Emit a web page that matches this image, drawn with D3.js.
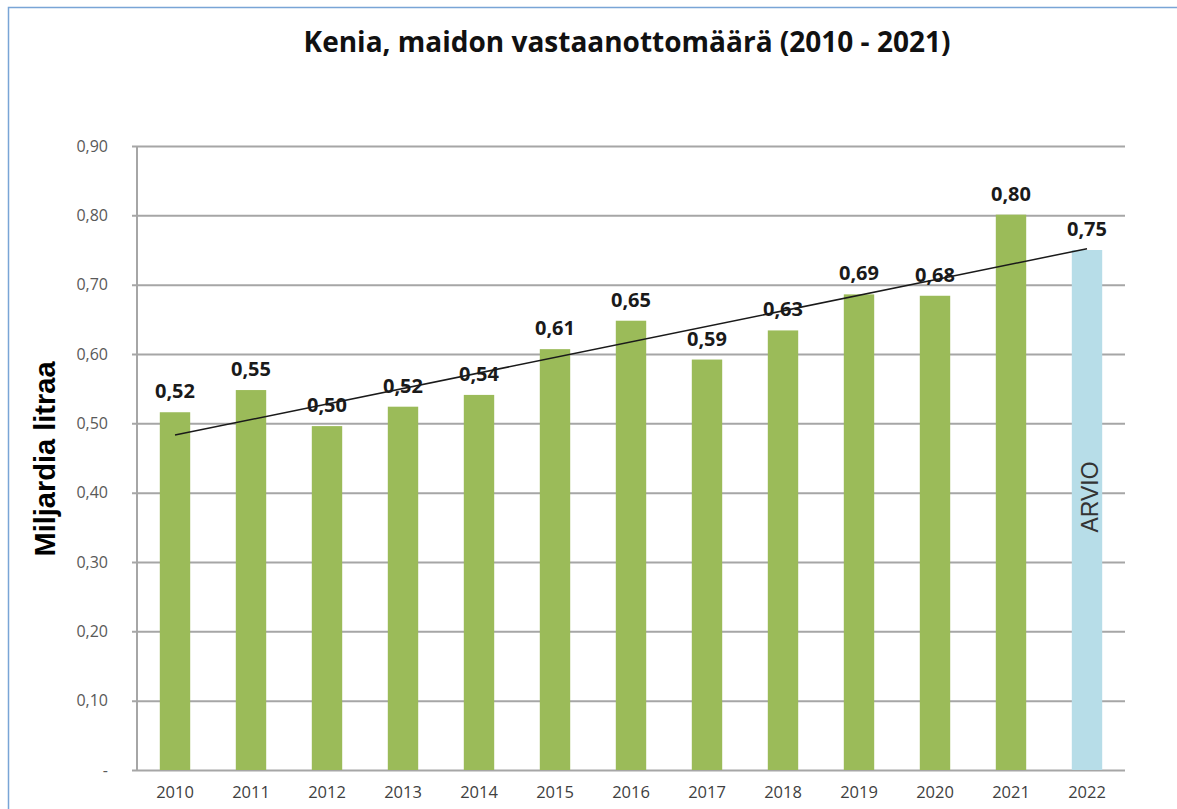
<!DOCTYPE html>
<html>
<head>
<meta charset="utf-8">
<script src="https://cdn.jsdelivr.net/npm/d3@7"></script>
<style>
  body { margin: 0; background: #fff; }
</style>
</head>
<body>
<div id="chart"></div>
<script>
// Data
const years = ["2010", "2011", "2012", "2013", "2014", "2015", "2016", "2017", "2018", "2019", "2020", "2021", "2022"];
const volumes = [0.516, 0.548, 0.496, 0.524, 0.541, 0.607, 0.648, 0.592, 0.634, 0.686, 0.684, 0.801, 0.750];
const estimateYear = "2022";
const yTicks = [0, 0.1, 0.2, 0.3, 0.4, 0.5, 0.6, 0.7, 0.8, 0.9];

const W = 1177, H = 809;
const margin = { top: 146, right: 52, bottom: 39, left: 137 };
const width = W - margin.left - margin.right;
const height = H - margin.top - margin.bottom;

const labelFont = "'Open Sans', Lato, sans-serif";

const svg = d3.select("#chart").append("svg")
    .attr("width", W)
    .attr("height", H);

// outer frame (only top and left edges visible)
svg.append("rect")
    .attr("x", 8.5).attr("y", 7.5)
    .attr("width", W + 20).attr("height", H + 20)
    .attr("fill", "none")
    .attr("stroke", "#79a5d6")
    .attr("stroke-width", 1.5);

const g = svg.append("g")
    .attr("transform", "translate(" + margin.left + "," + margin.top + ")");

const x = d3.scaleBand()
    .domain(years)
    .range([0, width])
    .paddingInner(0.6)
    .paddingOuter(0.3);

const y = d3.scaleLinear()
    .domain([0, 0.9])
    .range([height, 0]);

// gridlines + y axis
const yAxis = g.append("g")
    .call(d3.axisLeft(y)
        .tickValues(yTicks)
        .tickSize(-width)
        .tickPadding(29)
        .tickFormat(d => d === 0 ? "-" : d3.format(".2f")(d).replace(".", ",")));
yAxis.select(".domain").remove();
yAxis.selectAll(".tick line")
    .attr("x1", -5)
    .attr("stroke", "#a6a6a6")
    .attr("stroke-width", 2);
yAxis.selectAll(".tick text")
    .attr("font-family", labelFont)
    .attr("font-size", "16px")
    .attr("fill", "#595959");

// vertical axis line
g.append("line")
    .attr("x1", 0).attr("x2", 0)
    .attr("y1", 0).attr("y2", height)
    .attr("stroke", "#a6a6a6")
    .attr("stroke-width", 2);

// x axis labels
const xAxis = g.append("g")
    .attr("transform", "translate(0," + height + ")")
    .call(d3.axisBottom(x).tickSize(0).tickPadding(16));
xAxis.select(".domain").remove();
xAxis.selectAll(".tick text")
    .attr("font-family", labelFont)
    .attr("font-size", "16.5px")
    .attr("fill", "#404040");

// bars
g.selectAll(".bar")
    .data(years)
    .enter()
    .append("rect")
    .attr("class", "bar")
    .attr("x", d => x(d))
    .attr("width", x.bandwidth())
    .attr("y", (d, i) => y(volumes[i]))
    .attr("height", (d, i) => height - y(volumes[i]))
    .attr("fill", d => d === estimateYear ? "#b7dde8" : "#9bbb59");

// linear trendline (least squares over all bars)
const n = years.length;
const xs = d3.range(n);
const mx = d3.mean(xs), my = d3.mean(volumes);
const slope = d3.sum(xs, i => (i - mx) * (volumes[i] - my)) / d3.sum(xs, i => (i - mx) * (i - mx));
const icpt = my - slope * mx;
const trend = [0, n - 1].map(i => [x(years[i]) + x.bandwidth() / 2, y(icpt + slope * i)]);
g.append("path")
    .datum(trend)
    .attr("fill", "none")
    .attr("stroke", "#1a1a1a")
    .attr("stroke-width", 1.5)
    .attr("d", d3.line());

// value labels
g.selectAll(".val")
    .data(years)
    .enter()
    .append("text")
    .attr("class", "val")
    .attr("text-anchor", "middle")
    .attr("font-family", labelFont)
    .attr("font-weight", "bold")
    .attr("font-size", "20px")
    .attr("fill", "#1a1a1a")
    .attr("x", d => x(d) + x.bandwidth() / 2)
    .attr("y", (d, i) => y(volumes[i]) - 14)
    .text((d, i) => d3.format(".2f")(volumes[i]).replace(".", ","));

// estimate label inside the 2022 bar
g.append("text")
    .attr("text-anchor", "middle")
    .attr("font-family", "'Liberation Sans', Arial, sans-serif")
    .attr("font-size", "23px")
    .attr("fill", "#333")
    .attr("transform", "translate(" + (x(estimateYear) + x.bandwidth() / 2 + 11) + "," + (497 - margin.top) + ") rotate(-90)")
    .text("ARVIO");

// title
svg.append("text")
    .attr("text-anchor", "middle")
    .attr("font-family", labelFont)
    .attr("font-weight", "bold")
    .attr("font-size", "28px")
    .attr("fill", "#111")
    .attr("x", 627)
    .attr("y", 52)
    .text("Kenia, maidon vastaanottomäärä (2010 - 2021)");

// y axis title
svg.append("text")
    .attr("text-anchor", "middle")
    .attr("font-family", "'Liberation Sans', Arial, sans-serif")
    .attr("font-weight", "bold")
    .attr("font-size", "29px")
    .attr("fill", "#000")
    .attr("transform", "translate(55,459) rotate(-90)")
    .text("Miljardia litraa");
</script>
</body>
</html>
